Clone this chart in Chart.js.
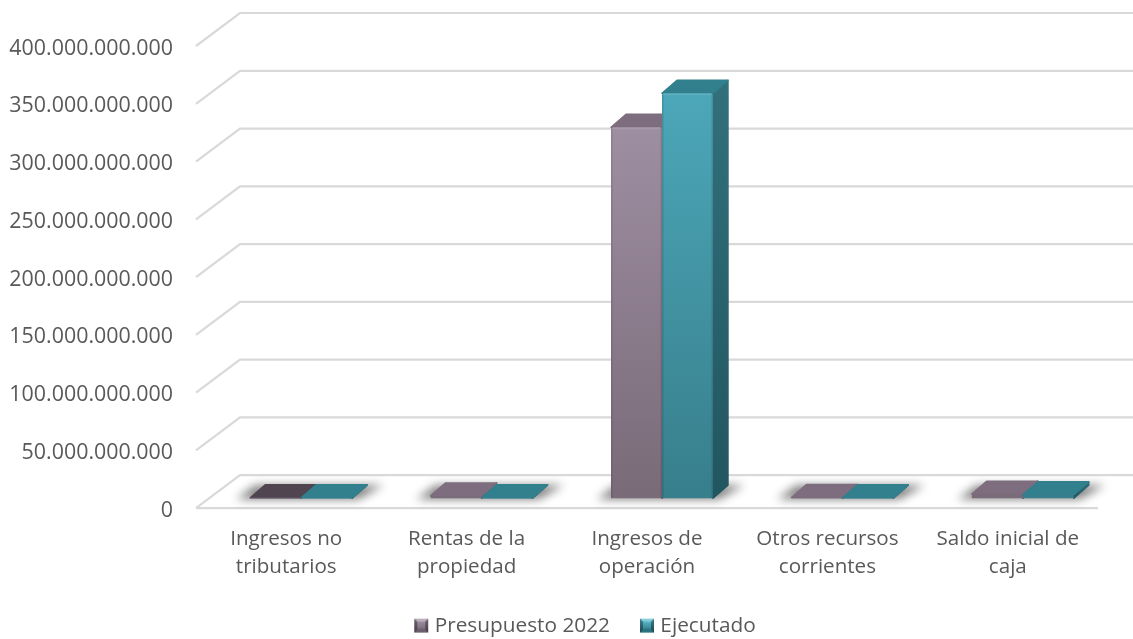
<!DOCTYPE html>
<html><head><meta charset="utf-8">
<style>html,body{margin:0;padding:0;background:#fff}canvas{display:block}</style>
<script src="https://cdn.jsdelivr.net/npm/chart.js@4"></script></head>
<body><canvas id="c" width="1133" height="639"></canvas>
<script>
const categories=[["Ingresos no","tributarios"],["Rentas de la","propiedad"],["Ingresos de","operación"],["Otros recursos","corrientes"],["Saldo inicial de","caja"]];
const presupuesto=[300000000,2000000000,321000000000,500000000,3500000000];
const ejecutado=[300000000,300000000,350500000000,300000000,3000000000];
const seriesNames=["Presupuesto 2022","Ejecutado"];
const yMax=400000000000, yStep=50000000000;

const DEPTH={x:44,y:33}, BAR_SHIFT={x:15,y:10}, BAR_DEPTH={x:15,y:13}, LEGEND_SHIFT=38;
const palette=[
 {frontTop:"#9f8fa3",frontBot:"#7a6b79",top:"#7d6d7e",sideTop:"#6a5b6a",sideBot:"#524552",dark:"#4f4450"},
 {frontTop:"#4ca8b9",frontBot:"#387f8d",top:"#327f8d",sideTop:"#32707c",sideBot:"#215660",dark:"#327f8d"}
];
function legendIcon(a,b){
  const s=16,cv=document.createElement('canvas');cv.width=cv.height=s;const g=cv.getContext('2d');
  const gr=g.createLinearGradient(0,2,0,14);gr.addColorStop(0,a);gr.addColorStop(1,b);
  g.fillStyle=gr;g.fillRect(1,1,14,14);
  g.fillStyle=b;g.beginPath();g.moveTo(1,15);g.lineTo(15,15);g.lineTo(11,11);g.lineTo(5,11);g.fill();
  g.fillStyle="rgba(0,0,0,.35)";g.beginPath();g.moveTo(15,1);g.lineTo(15,15);g.lineTo(12,12);g.lineTo(12,4);g.fill();
  g.beginPath();g.moveTo(1,1);g.lineTo(1,15);g.lineTo(4,12);g.lineTo(4,4);g.fill();
  g.fillStyle="rgba(255,255,255,.25)";g.beginPath();g.moveTo(1,1);g.lineTo(15,1);g.lineTo(12,4);g.lineTo(4,4);g.fill();
  return cv;
}
const icons=[legendIcon("#a797ab","#6e5f6e"),legendIcon("#5fc0d2","#2c7381")];

function faceGradient(c,i){
  const {chart,parsed}=c; if(!chart.chartArea||!parsed) return palette[i].frontBot;
  const y=chart.scales.y;
  const g=chart.ctx.createLinearGradient(0,y.getPixelForValue(parsed.y)-BAR_SHIFT.y,0,y.getPixelForValue(0)-BAR_SHIFT.y);
  g.addColorStop(0,parsed.y>1e10?palette[i].frontTop:palette[i].frontBot);g.addColorStop(1,palette[i].frontBot);
  return g;
}
const wall3d={
  id:'wall3d',
  afterLayout(chart){
    chart.legend.left+=LEGEND_SHIFT;chart.legend.right+=LEGEND_SHIFT;
  },
  beforeDatasetsDraw(chart){
    const {ctx,scales:{y},chartArea:a}=chart;
    ctx.save();
    ctx.strokeStyle="#d9d9d9";ctx.lineWidth=2.2;
    y.ticks.forEach((t,i)=>{
      const py=y.getPixelForValue(t.value);
      ctx.beginPath();ctx.moveTo(a.left,py);ctx.lineTo(a.left+DEPTH.x,py-DEPTH.y);ctx.lineTo(a.right+DEPTH.x,py-DEPTH.y);ctx.stroke();
      if(i===0){ctx.beginPath();ctx.moveTo(a.left,py);ctx.lineTo(a.right,py);ctx.stroke();}
    });
    ctx.restore();
    // shadows under the bars
    const m0=chart.getDatasetMeta(0),m1=chart.getDatasetMeta(1);
    m0.data.forEach((b,k)=>{
      const c=m1.data[k],l=b.x-b.width/2+BAR_SHIFT.x,r=c.x+c.width/2+BAR_SHIFT.x,by=y.getPixelForValue(0)-BAR_SHIFT.y;
      ctx.save();ctx.filter="blur(5px)";ctx.fillStyle="rgba(0,0,0,.5)";
      ctx.beginPath();ctx.moveTo(l-14,by+1);ctx.lineTo(r+6,by+1);ctx.lineTo(r+BAR_DEPTH.x+16,by-BAR_DEPTH.y);ctx.lineTo(l+BAR_DEPTH.x-10,by-BAR_DEPTH.y);ctx.closePath();ctx.fill();ctx.restore();
    });
    // tops and sides
    [0,1].forEach(ds=>{
      chart.getDatasetMeta(ds).data.forEach((b,k)=>{
        const p=palette[ds],l=b.x-b.width/2+BAR_SHIFT.x,r=b.x+b.width/2+BAR_SHIFT.x,t=b.y-BAR_SHIFT.y,bt=b.base-BAR_SHIFT.y;
        ctx.save();ctx.lineJoin="round";ctx.lineWidth=1.5;
        const topCol=(ds===0&&k===0)?p.dark:p.top;
        const sg=ctx.createLinearGradient(0,t-BAR_DEPTH.y,0,Math.max(bt,t+1));
        sg.addColorStop(0,p.sideTop);sg.addColorStop(1,p.sideBot);
        ctx.fillStyle=sg;ctx.strokeStyle=sg;
        ctx.beginPath();ctx.moveTo(r,t);ctx.lineTo(r+BAR_DEPTH.x,t-BAR_DEPTH.y);ctx.lineTo(r+BAR_DEPTH.x,bt-BAR_DEPTH.y);ctx.lineTo(r,bt);ctx.closePath();ctx.fill();ctx.stroke();
        ctx.fillStyle=topCol;ctx.strokeStyle=topCol;
        ctx.beginPath();ctx.moveTo(l,t);ctx.lineTo(l+BAR_DEPTH.x,t-BAR_DEPTH.y);ctx.lineTo(r+BAR_DEPTH.x,t-BAR_DEPTH.y);ctx.lineTo(r,t);ctx.closePath();ctx.fill();ctx.stroke();
        ctx.restore();
      });
    });
    ctx.save();ctx.translate(BAR_SHIFT.x,-BAR_SHIFT.y);
  },
  afterDatasetsDraw(chart){
    const {ctx}=chart;
    [0,1].forEach(ds=>{
      chart.getDatasetMeta(ds).data.forEach(b=>{
        const h=b.base-b.y; if(h<8) return;
        const l=b.x-b.width/2,w=b.width;
        ctx.fillStyle="rgba(0,0,0,.12)";ctx.fillRect(l,b.y,1.5,h);ctx.fillRect(l+w-1.5,b.y,1.5,h);
        ctx.fillStyle="rgba(255,255,255,.10)";ctx.fillRect(l+1,b.y,w-2,2);
      });
    });
    ctx.restore();
  }
};
new Chart(document.getElementById('c'),{
  type:'bar',
  plugins:[wall3d],
  data:{labels:categories,datasets:[
    {label:seriesNames[0],data:presupuesto,backgroundColor:c=>faceGradient(c,0),borderWidth:0,borderRadius:2,pointStyle:icons[0]},
    {label:seriesNames[1],data:ejecutado,backgroundColor:c=>faceGradient(c,1),borderWidth:0,borderRadius:2,pointStyle:icons[1]}
  ]},
  options:{
    responsive:false,animation:false,
    font:{family:"'Open Sans'"},
    layout:{padding:{top:46,left:0,right:35,bottom:-7}},
    datasets:{bar:{barPercentage:1,categoryPercentage:0.565,minBarLength:0,clip:false}},
    plugins:{
      tooltip:{enabled:false},
      legend:{position:'bottom',labels:{
        color:"#595959",font:{family:"'Open Sans'",size:20.8},usePointStyle:true,boxWidth:6,padding:34,
        generateLabels:ch=>ch.data.datasets.map((d,i)=>({text:d.label,fontColor:"#595959",pointStyle:d.pointStyle,datasetIndex:i,lineWidth:0,fillStyle:'transparent',strokeStyle:'transparent',hidden:false}))
      }}
    },
    scales:{
      x:{
        grid:{display:false,drawTicks:false},border:{display:false},
        ticks:{color:"#595959",font:{family:"'Open Sans'",size:20.6,lineHeight:1.36},padding:17,autoSkip:false,maxRotation:0},
        afterFit(s){s.height=73;}
      },
      y:{
        min:0,max:yMax,
        grid:{display:false,drawTicks:false},border:{display:false},
        ticks:{stepSize:yStep,color:"#595959",font:{family:"'Open Sans'",size:21.4},padding:23,labelOffset:2.5,
          callback:v=>String(v).replace(/\B(?=(\d{3})+$)/g,".")},
        afterFit(s){s.width=196;}
      }
    }
  }
});
</script></body></html>
